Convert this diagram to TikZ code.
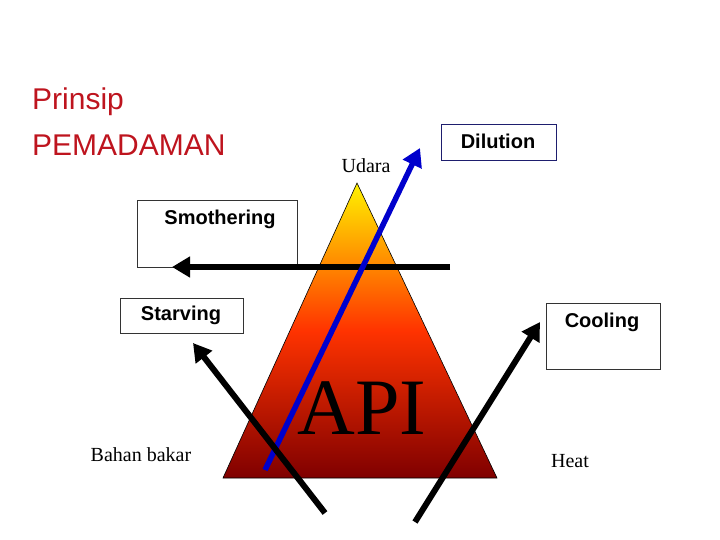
\documentclass[tikz,border=0pt]{standalone}
\usepackage{fontspec}
\setmainfont{Liberation Serif}
\newfontfamily\boxfont{Liberation Sans}
\usetikzlibrary{arrows.meta}
\definecolor{titlered}{RGB}{190,20,30}
\definecolor{navyline}{RGB}{30,30,110}
\tikzset{
    lbox/.style={draw, line width=0.7pt, inner sep=0pt, font=\boxfont\bfseries\fontsize{20}{24}\selectfont},
    fatarrow/.style={line width=6pt, -{Triangle[length=18pt,width=20pt]}},
    plain/.style={font=\fontsize{20}{24}\selectfont}}
\begin{document}
\begin{tikzpicture}[x=1pt,y=-1pt]
\useasboundingbox (0,0) rectangle (720,540);
% triangle
\coordinate (T) at (357,183);
\coordinate (L) at (223,478);
\coordinate (R) at (497,478);
\shade[top color=yellow!90!orange, bottom color=red!50!black, middle color=orange!40!red] (T) -- (L) -- (R) -- cycle;
\draw[line width=0.6pt] (T) -- (L) -- (R) -- cycle;
% title and labels
\node[anchor=north west, align=left, text=titlered, font=\boxfont\fontsize{30}{46}\selectfont, inner sep=0pt] (title) at (32,88) {Prinsip\\PEMADAMAN};
\node[plain] (udara) at (366,166) {Udara};
\node[font=\fontsize{80}{82}\selectfont] (api) at (362,408) {API};
\node[plain] (bahan) at (141,455) {Bahan bakar};
\node[plain] (heat) at (570,461) {Heat};
% boxes
\draw[lbox, draw=navyline] (441,124) rectangle (556,160);
\node[lbox, draw=none] (dilution) at (498,141) {Dilution};
\draw[lbox, draw=black!80] (137,200) rectangle (297,267);
\node[lbox, draw=none] (smother) at (220,219) {Smothering};
\draw[lbox, draw=black!80] (120,298) rectangle (243,333);
\node[lbox, draw=none] (starve) at (181,315) {Starving};
\draw[lbox, draw=black!80] (546,303) rectangle (660,369);
\node[lbox, draw=none] (cool) at (602,322) {Cooling};
% arrows
\coordinate (sA) at (450,267);
\coordinate (sB) at (172,267);
\draw[fatarrow] (sA) -- (sB);
\coordinate (bA) at (265,470);
\coordinate (bB) at (420,148);
\draw[fatarrow, blue!80!black, line width=5.5pt] (bA) -- (bB);
\coordinate (fA) at (325,513);
\coordinate (fB) at (193,343);
\draw[fatarrow] (fA) -- (fB);
\coordinate (hA) at (415,522);
\coordinate (hB) at (540,322);
\draw[fatarrow] (hA) -- (hB);
\end{tikzpicture}
\end{document}
